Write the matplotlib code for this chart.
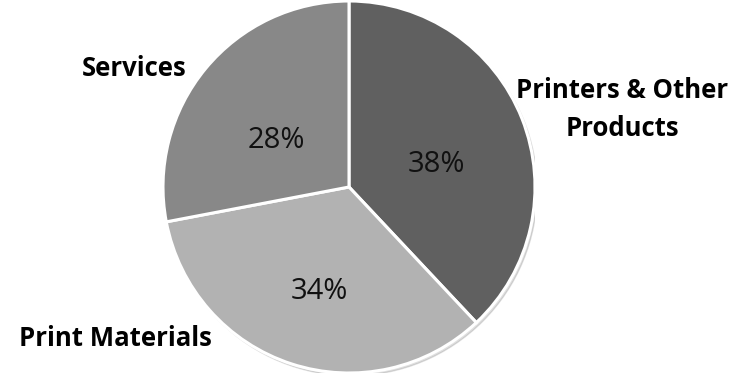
import matplotlib.pyplot as plt

# Данные
categories = ['Printers & Other\nProducts', 'Print Materials', 'Services']
shares = [38, 34, 28]
colors = ['#606060', '#b2b2b2', '#888888']

# Положение подписей (в долях радиуса, по базовой линии)
pct_pos = [(0.468, 0.081), (-0.158, -0.602), (-0.392, 0.21)]
cat_pos = [(1.468, 0.478), (-1.255, -0.855), (-1.156, 0.597)]
LINE_GAP = 0.205

plt.rcParams['font.family'] = ['Open Sans', 'DejaVu Sans']

W, H = 743, 382
fig = plt.figure(figsize=(W / 100, H / 100), dpi=100)
cx, cy, r = 349, 187, 186
ax = fig.add_axes([(cx - r) / W, (H - cy - r) / H, 2 * r / W, 2 * r / H])

# лёгкая тень
shadow = plt.Circle((0.012, -0.015), 1.0, color='#000000', alpha=0.12, zorder=0)
ax.add_patch(shadow)

ax.pie(shares, colors=colors, startangle=90, counterclock=False, radius=1.0,
       wedgeprops=dict(edgecolor='white', linewidth=2.2))

for (x, y), s in zip(pct_pos, shares):
    ax.text(x, y, f'{s}%', ha='center', va='baseline', fontsize=21, color='#111111')

for (x, y), c in zip(cat_pos, categories):
    for i, line in enumerate(c.split('\n')):
        ax.text(x, y - i * LINE_GAP, line, ha='center', va='baseline',
                fontsize=18.5, fontweight='bold', color='black')

ax.set_xlim(-1, 1)
ax.set_ylim(-1, 1)
ax.set_aspect('equal')
ax.axis('off')

fig.savefig('out.png', dpi=100)
